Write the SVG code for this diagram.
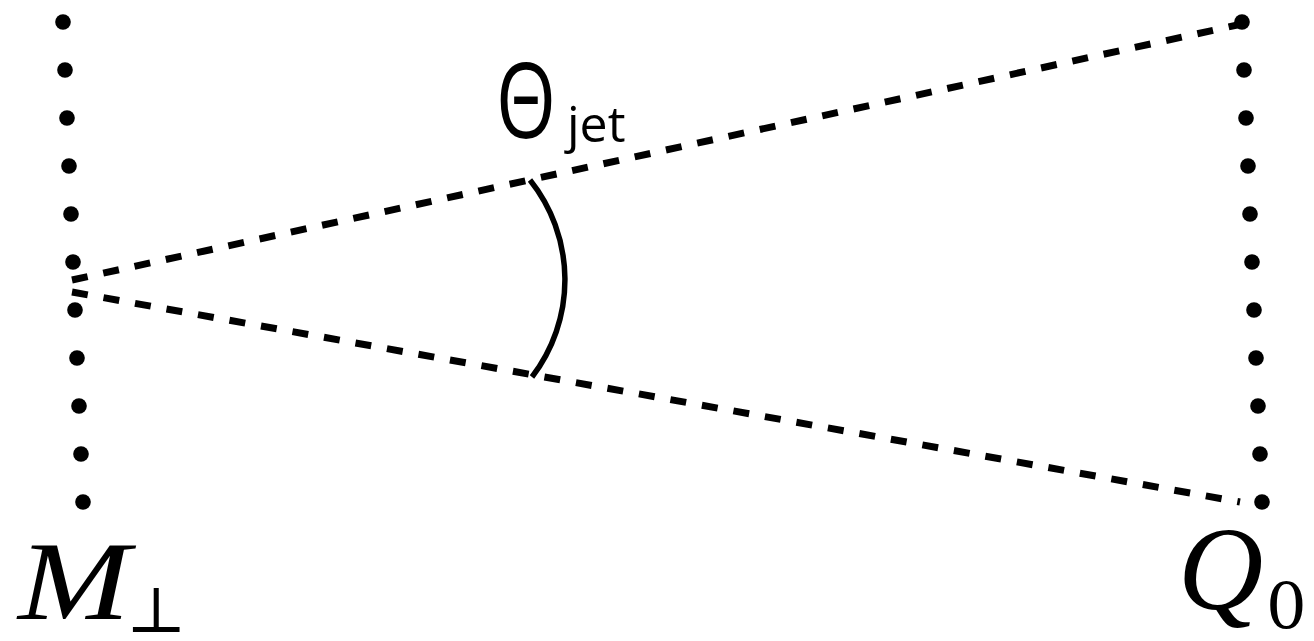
<svg xmlns="http://www.w3.org/2000/svg" width="1314" height="641" viewBox="0 0 1314 641">
<style>
.dot{fill:#000}
.dash{fill:none;stroke:#000;stroke-width:7;stroke-dasharray:16 16}
.arc{fill:none;stroke:#000;stroke-width:5.5;stroke-linecap:butt}
.math{font-family:"Liberation Serif","DejaVu Serif",serif;font-style:italic;fill:#000}
.sub{font-family:"DejaVu Serif","Liberation Serif",serif;fill:#000}
.lbl{font-family:"Open Sans",Lato,sans-serif;fill:#000}
</style>
<rect width="1314" height="641" fill="#fff"/>
<g id="left-dots">
<circle class="dot" cx="63" cy="22" r="7.8"/>
<circle class="dot" cx="65" cy="70" r="7.8"/>
<circle class="dot" cx="67" cy="118" r="7.8"/>
<circle class="dot" cx="69" cy="166" r="7.8"/>
<circle class="dot" cx="71" cy="214" r="7.8"/>
<circle class="dot" cx="73" cy="262" r="7.8"/>
<circle class="dot" cx="75" cy="310" r="7.8"/>
<circle class="dot" cx="77" cy="358" r="7.8"/>
<circle class="dot" cx="79" cy="406" r="7.8"/>
<circle class="dot" cx="81" cy="454" r="7.8"/>
<circle class="dot" cx="83" cy="502" r="7.8"/>
</g>
<g id="right-dots">
<circle class="dot" cx="1242" cy="22" r="7.8"/>
<circle class="dot" cx="1244" cy="70" r="7.8"/>
<circle class="dot" cx="1246" cy="118" r="7.8"/>
<circle class="dot" cx="1248" cy="166" r="7.8"/>
<circle class="dot" cx="1250" cy="214" r="7.8"/>
<circle class="dot" cx="1252" cy="262" r="7.8"/>
<circle class="dot" cx="1254" cy="310" r="7.8"/>
<circle class="dot" cx="1256" cy="358" r="7.8"/>
<circle class="dot" cx="1258" cy="406" r="7.8"/>
<circle class="dot" cx="1260" cy="454" r="7.8"/>
<circle class="dot" cx="1262" cy="502" r="7.8"/>
</g>
<g id="connectors">
<line class="dash" x1="72" y1="280" x2="1242" y2="24"/>
<line class="dash" x1="72" y1="292" x2="1240" y2="502"/>
<path class="arc" d="M530,180 A160,160 0 0 1 532,377"/>
</g>
<g id="label-theta">
<text class="lbl" x="496" y="138" font-size="104"><tspan textLength="60" lengthAdjust="spacingAndGlyphs">Θ</tspan><tspan x="567" y="142" font-size="50">jet</tspan></text>
</g>
<g id="label-m">
<text class="math" x="18" y="619" font-size="112" textLength="112" lengthAdjust="spacingAndGlyphs">M</text>
<text class="sub" x="126" y="632" font-size="64">⊥</text>
</g>
<g id="label-q">
<text class="math" x="1178" y="609" font-size="118">Q</text>
<text class="sub" x="1266" y="629" font-size="64" font-family="Liberation Serif">0</text>
</g>
</svg>
